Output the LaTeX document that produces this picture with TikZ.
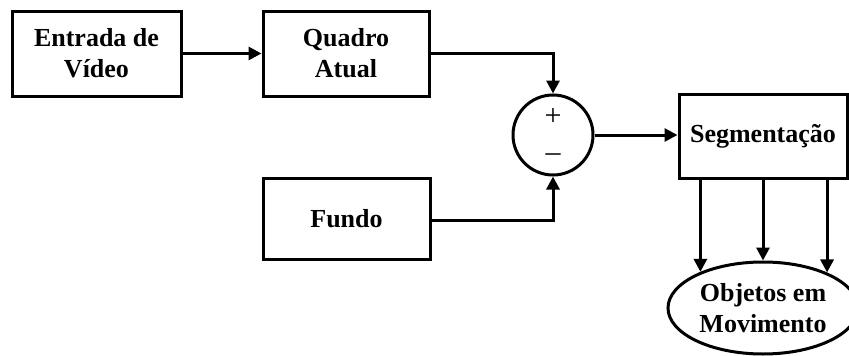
\documentclass[tikz,border=0pt]{standalone}
\usepackage{fontspec}
\setmainfont{Liberation Serif}
\usetikzlibrary{arrows.meta,shapes.geometric}
\begin{document}
\begin{tikzpicture}[x=1pt,y=-1pt,
  every node/.style={font=\fontsize{26}{31}\selectfont\bfseries, align=center},
  blk/.style={draw, line width=3pt, rectangle, inner sep=0pt},
  sumnode/.style={draw, line width=3pt, circle, minimum size=80pt, inner sep=0pt},
  outnode/.style={draw, line width=3pt, ellipse, minimum width=190pt, minimum height=92pt, inner sep=0pt},
  conn/.style={line width=3pt, -{Triangle[length=13pt,width=13pt]}},
  sign/.style={font=\fontsize{30}{30}\selectfont}]
  \useasboundingbox (0,0) rectangle (849,356);
  % blocks
  \node[blk, minimum width=169pt, minimum height=85pt] (in) at (96.5,53.5) {Entrada de\\Vídeo};
  \node[blk, minimum width=166pt, minimum height=85pt] (cur) at (346,53.5) {Quadro\\Atual};
  \node[blk, minimum width=167pt, minimum height=81pt] (bg) at (346.5,218.5) {Fundo};
  \node[sumnode] (sum) at (553,135) {};
  \node[sign] (plus) at (553,117) {+};
  \node[sign] (minus) at (553,158) {\textendash};
  \node[blk, minimum width=168pt, minimum height=84pt] (seg) at (763,136) {Segmentação};
  \node[outnode] (obj) at (763,308) {Objetos em\\Movimento};
  % connectors
  \draw[conn] (in.east) -- (cur.west);
  \draw[conn] (cur.east) -| (sum.north);
  \draw[conn] (bg.east) ++(0,1.5) -| (sum.south);
  \draw[conn] (sum.east) -- (sum.east -| seg.west);
  \draw[conn] (seg.south -| obj.150.6) -- (obj.150.6);
  \draw[conn] (seg.south) -- (obj.north);
  \draw[conn] (seg.south -| obj.29.4) -- (obj.29.4);
\end{tikzpicture}
\end{document}
